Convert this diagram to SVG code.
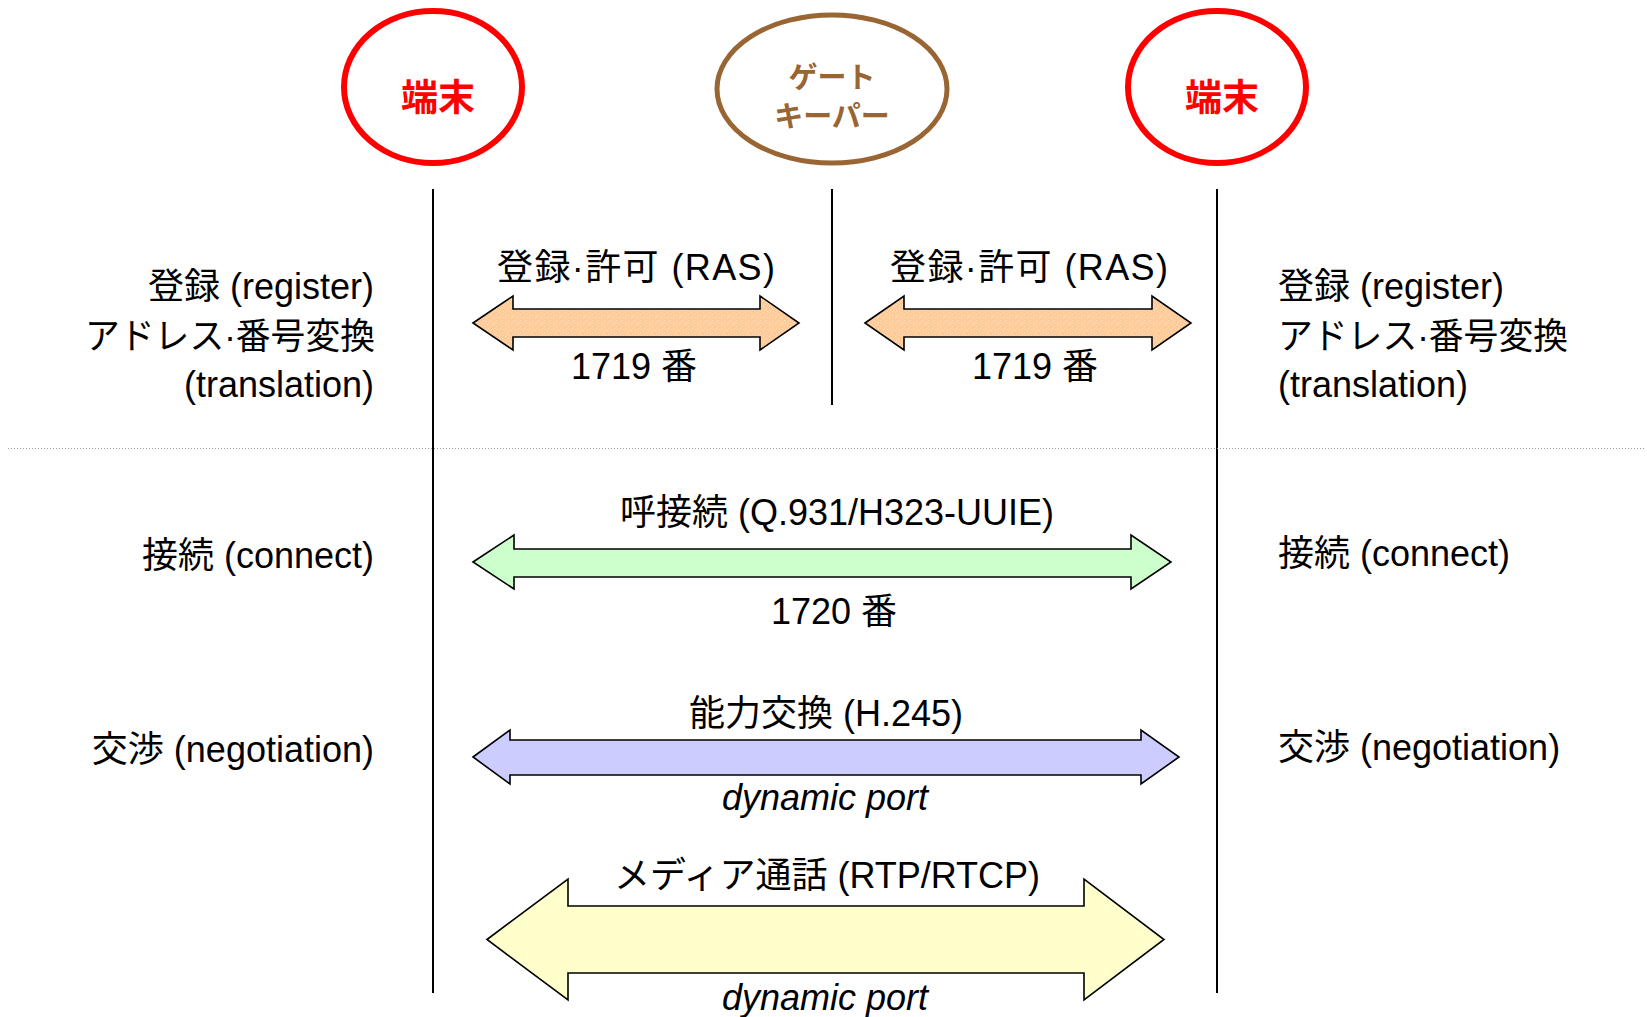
<svg xmlns="http://www.w3.org/2000/svg" width="1647" height="1017" viewBox="0 0 1647 1017">
<defs>
<pattern id="peach" width="6" height="6" patternUnits="userSpaceOnUse">
<rect width="6" height="6" fill="#FFCC99"/>
<rect x="1" y="0" width="1" height="1" fill="#FFE2C6"/>
<rect x="4" y="2" width="1" height="1" fill="#FFE2C6"/>
<rect x="2" y="4" width="1" height="1" fill="#FFE2C6"/>
<rect x="5" y="5" width="1" height="1" fill="#FFDDBB"/>
</pattern>
</defs>
<style>
.t{font-family:"Liberation Sans","Noto Sans CJK JP",sans-serif;font-size:36px;fill:#000}
.it{font-style:italic}
.line{stroke:#000;stroke-width:2;fill:none}
.arrow{stroke:#000;stroke-width:1.6;stroke-linejoin:miter}
.term{fill:none;stroke:#FF0000;stroke-width:6}
.termtxt{font-family:"Noto Sans CJK JP","Liberation Sans",sans-serif;font-weight:bold;font-size:37px;fill:#FF0000}
.gk{fill:none;stroke:#996633;stroke-width:5}
.gktxt{font-family:"Noto Sans CJK JP","Liberation Sans",sans-serif;font-weight:bold;font-size:29px;fill:#996633}
</style>
<rect width="1647" height="1017" fill="#FFFFFF"/>

<g id="terminal-left">
<ellipse class="term" cx="433" cy="87" rx="89" ry="76"/>
<text class="termtxt" x="438" y="111" text-anchor="middle">端末</text>
</g>
<g id="gatekeeper">
<ellipse class="gk" cx="832" cy="89" rx="115" ry="74"/>
<text class="gktxt" x="832" y="88" text-anchor="middle">ゲート</text>
<text class="gktxt" x="832" y="127" text-anchor="middle">キーパー</text>
</g>
<g id="terminal-right">
<ellipse class="term" cx="1217" cy="87" rx="89" ry="76"/>
<text class="termtxt" x="1222" y="111" text-anchor="middle">端末</text>
</g>

<g id="lifelines">
<line class="line" x1="433" y1="189" x2="433" y2="993"/>
<line class="line" x1="832" y1="189" x2="832" y2="405"/>
<line class="line" x1="1217" y1="189" x2="1217" y2="993"/>
<line x1="8" y1="448.5" x2="1645" y2="448.5" stroke="#999999" stroke-width="1" stroke-dasharray="1,2"/>
</g>

<g id="connectors">
<path class="arrow" fill="url(#peach)" d="M473,323 L513,296 L513,309 L760,309 L760,296 L799,323 L760,350 L760,337 L513,337 L513,350 Z"/>
<path class="arrow" fill="url(#peach)" d="M865,323 L904,296 L904,309 L1152,309 L1152,296 L1191,323 L1152,350 L1152,337 L904,337 L904,350 Z"/>
<path class="arrow" fill="#CCFFCC" d="M473,562 L514,535 L514,549 L1131,549 L1131,535 L1171,562 L1131,589 L1131,577 L514,577 L514,589 Z"/>
<path class="arrow" fill="#CCCCFF" d="M473,757 L510,730 L510,740 L1141,740 L1141,730 L1179,757 L1141,784 L1141,775 L510,775 L510,784 Z"/>
<path class="arrow" fill="#FFFFCC" d="M487,939.5 L568,879 L568,906 L1084,906 L1084,879 L1164,939.5 L1084,1000 L1084,973 L568,973 L568,1000 Z"/>
</g>

<g id="labels-arrows">
<text class="t" x="497" y="280" textLength="278" lengthAdjust="spacing">登録·許可 (RAS)</text>
<text class="t" x="634" y="379" text-anchor="middle">1719 番</text>
<text class="t" x="890" y="280" textLength="278" lengthAdjust="spacing">登録·許可 (RAS)</text>
<text class="t" x="1035" y="379" text-anchor="middle">1719 番</text>
<text class="t" x="837" y="525" text-anchor="middle">呼接続 (Q.931/H323-UUIE)</text>
<text class="t" x="834" y="624" text-anchor="middle">1720 番</text>
<text class="t" x="826" y="726" text-anchor="middle">能力交換 (H.245)</text>
<text class="t it" x="825" y="810" text-anchor="middle">dynamic port</text>
<text class="t" x="827" y="888" text-anchor="middle">メディア通話 (RTP/RTCP)</text>
<text class="t it" x="825" y="1010" text-anchor="middle">dynamic port</text>
</g>

<g id="labels-left">
<text class="t" x="374" y="299" text-anchor="end">登録 (register)</text>
<text class="t" x="85" y="349" textLength="290" lengthAdjust="spacingAndGlyphs">アドレス·番号変換</text>
<text class="t" x="374" y="397" text-anchor="end">(translation)</text>
<text class="t" x="374" y="568" text-anchor="end">接続 (connect)</text>
<text class="t" x="374" y="762" text-anchor="end">交渉 (negotiation)</text>
</g>
<g id="labels-right">
<text class="t" x="1278" y="299">登録 (register)</text>
<text class="t" x="1278" y="349" textLength="290" lengthAdjust="spacingAndGlyphs">アドレス·番号変換</text>
<text class="t" x="1278" y="397">(translation)</text>
<text class="t" x="1278" y="566">接続 (connect)</text>
<text class="t" x="1278" y="760">交渉 (negotiation)</text>
</g>
</svg>
